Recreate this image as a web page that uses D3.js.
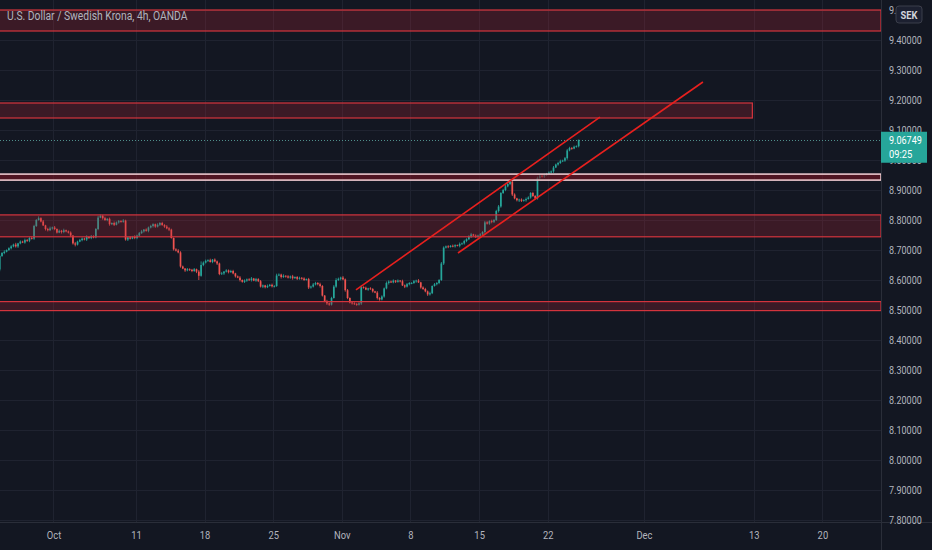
<!DOCTYPE html>
<html>
<head>
<meta charset="utf-8">
<script src="https://cdn.jsdelivr.net/npm/d3@7"></script>
<style>
  body { margin: 0; background: #131722; overflow: hidden; }
  text { font-family: Roboto, "Noto Sans", sans-serif; }
</style>
</head>
<body>
<div id="chart"></div>
<script>
// USD/SEK 4h candles, OANDA, from Sep 27 2021 (6 bars per trading day)
const firstDay = "2021-09-27";
const firstOpen = 8.635;
const closes = [
  8.680, 8.690, 8.694, 8.700, 8.706, 8.712,
  8.718, 8.712, 8.722, 8.728, 8.725, 8.733,
  8.731, 8.740, 8.738, 8.780, 8.800, 8.806,
  8.795, 8.782, 8.770, 8.766, 8.772, 8.775,
  8.770, 8.758, 8.764, 8.760, 8.766, 8.762,
  8.758, 8.748, 8.722, 8.718, 8.728, 8.733,
  8.738, 8.735, 8.744, 8.740, 8.746, 8.742,
  8.770, 8.808, 8.814, 8.806, 8.800, 8.804,
  8.786, 8.790, 8.784, 8.792, 8.796, 8.794,
  8.798, 8.735, 8.742, 8.738, 8.744, 8.740,
  8.748, 8.756, 8.762, 8.768, 8.764, 8.775,
  8.780, 8.786, 8.778, 8.784, 8.790, 8.783,
  8.778, 8.772, 8.768, 8.740, 8.702, 8.698,
  8.692, 8.645, 8.638, 8.632, 8.636, 8.634,
  8.630, 8.636, 8.628, 8.614, 8.650, 8.658,
  8.664, 8.666, 8.660, 8.668, 8.662, 8.655,
  8.620, 8.622, 8.628, 8.632, 8.626, 8.630,
  8.622, 8.612, 8.608, 8.600, 8.594, 8.598,
  8.602, 8.600, 8.605, 8.598, 8.603, 8.596,
  8.578, 8.582, 8.576, 8.580, 8.584, 8.579,
  8.580, 8.615, 8.618, 8.610, 8.614, 8.612,
  8.608, 8.612, 8.606, 8.610, 8.604, 8.607,
  8.605, 8.600, 8.603, 8.575, 8.578, 8.585,
  8.590, 8.586, 8.580, 8.548, 8.530, 8.522,
  8.518, 8.540, 8.578, 8.600, 8.604, 8.608,
  8.602, 8.566, 8.540, 8.525, 8.522, 8.520,
  8.518, 8.522, 8.576, 8.574, 8.568, 8.572,
  8.570, 8.562, 8.558, 8.540, 8.535, 8.545,
  8.572, 8.590, 8.595, 8.592, 8.598, 8.594,
  8.598, 8.596, 8.582, 8.578, 8.586, 8.590,
  8.590, 8.596, 8.598, 8.592, 8.575, 8.570,
  8.562, 8.552, 8.556, 8.580, 8.586, 8.590,
  8.600, 8.655, 8.708, 8.712, 8.710, 8.714,
  8.712, 8.716, 8.714, 8.720, 8.722, 8.730,
  8.736, 8.745, 8.752, 8.748, 8.744, 8.748,
  8.752, 8.760, 8.792, 8.788, 8.796, 8.794,
  8.800, 8.830, 8.845, 8.890, 8.900, 8.912,
  8.920, 8.928, 8.885, 8.872, 8.866, 8.868,
  8.864, 8.866, 8.870, 8.875, 8.890, 8.880,
  8.872, 8.940, 8.948, 8.944, 8.950, 8.954,
  8.958, 8.962, 8.975, 8.985, 8.990, 8.996,
  8.998, 9.006, 9.032, 9.040, 9.038, 9.044,
  9.046, 9.06749
];
// wick lengths above / below the body, in thousandths
const upWick = [
  4,3,5,2,3,4, 3,6,2,4,3,5, 4,3,5,4,3,6, 3,5,2,4,6,3, 5,2,4,3,5,2,
  3,4,2,5,3,4, 4,3,5,2,4,3, 3,6,4,3,5,2, 4,2,5,3,4,3, 5,3,2,4,3,5,
  3,4,5,2,4,3, 4,3,2,5,3,4, 3,5,4,3,2,4, 5,4,3,2,4,3, 3,4,2,5,12,4,
  4,3,5,2,4,3, 3,5,2,4,3,4, 4,2,3,5,2,4, 3,4,5,2,4,3, 4,3,2,5,3,4,
  3,6,4,3,5,2, 4,3,5,2,3,4, 3,4,2,4,3,5, 4,3,5,3,2,4, 3,4,5,6,4,3,
  5,3,4,2,3,4, 3,4,6,3,4,2, 4,3,2,5,3,4, 3,5,4,3,4,2, 4,2,5,3,4,3,
  3,4,3,5,2,4, 4,3,5,2,4,3, 3,5,4,3,4,2, 4,3,2,5,3,4, 3,4,5,2,4,3,
  4,3,5,4,3,5, 3,4,5,3,4,6, 8,5,3,4,2,3, 4,3,5,4,3,4, 3,5,4,3,4,3,
  4,3,5,3,4,5, 3,4,5,4,3,4, 3,2
];
const downWick = [
  6,3,4,2,3,4, 3,4,5,3,2,4, 4,5,3,4,3,2, 3,2,5,4,3,4, 4,3,2,5,4,3,
  3,5,4,6,3,2, 4,3,5,3,4,3, 3,4,2,5,3,4, 5,3,4,2,4,3, 3,4,5,3,2,4,
  4,3,2,4,3,5, 3,5,4,3,4,2, 4,3,5,2,4,3, 3,4,2,5,3,4, 4,3,5,14,3,4,
  3,4,2,4,3,5, 4,3,5,3,4,2, 3,4,2,5,3,4, 4,3,5,2,4,3, 3,5,4,3,2,4,
  4,3,2,5,3,4, 3,4,5,2,4,3, 4,3,2,5,4,3, 3,4,5,3,4,5, 4,3,2,4,3,5,
  3,5,4,3,4,3, 4,3,5,3,2,4, 3,4,2,5,4,3, 4,3,5,2,3,4, 3,4,2,5,3,4,
  4,3,5,2,4,3, 3,5,4,3,2,4, 4,3,5,3,4,2, 3,4,2,5,3,4, 4,3,5,2,4,3,
  3,4,5,3,4,5, 4,3,5,4,3,4, 3,4,5,3,4,6, 4,3,5,2,4,3, 3,4,5,3,4,3,
  4,3,5,2,4,3, 3,4,5,3,4,2, 3,4
];

const priceTicks = [7.8, 7.9, 8.0, 8.1, 8.2, 8.3, 8.4, 8.5, 8.6, 8.7, 8.8, 8.9, 9.0, 9.1, 9.2, 9.3, 9.4, 9.5];
const timeTicks = ["2021-10-01", "2021-10-11", "2021-10-18", "2021-10-25", "2021-11-01", "2021-11-08",
                   "2021-11-15", "2021-11-22", "2021-12-01", "2021-12-13", "2021-12-20"];

// drawn zones: top / bottom price, right end (trading day index, null = to the axis)
const zoneTop    = [9.500, 9.190, 8.953, 8.817, 8.528];
const zoneBottom = [9.430, 9.140, 8.933, 8.744, 8.498];
const zoneEnd    = [null, 54.9, null, null, null];
const zoneKind   = ["red", "red", "white", "red", "red"];

// channel lines: [startDay, startPrice, endDay, endPrice]
const channel = [
  [26.03, 8.567, 43.8, 9.143],
  [33.46, 8.690, 51.3, 9.260]
];

const lastPrice = 9.06749;
const countdown = "09:25";
const title = "U.S. Dollar / Swedish Krona, 4h, OANDA";

const width = 932, height = 550;
const plotRight = 881, plotBottom = 522;

const svg = d3.select("#chart").append("svg")
  .attr("width", width)
  .attr("height", height)
  .style("background", "#131722");

const x = d3.scaleLinear().domain([0.1035, 64.27]).range([0, plotRight]);
const y = d3.scaleLinear().domain([7.8, 9.5]).range([520, 10]);

// trading day index (weekdays counted from the first day)
const start = new Date(firstDay + "T00:00:00Z");
function dayIndex(s) {
  const d = new Date(s + "T00:00:00Z");
  return d3.utcDay.range(start, d).filter(t => t.getUTCDay() % 6 !== 0).length;
}

// squeeze text a bit, the screenshot fonts are narrow
function squeeze(sel, k) {
  sel.each(function() {
    const w = this.getComputedTextLength();
    d3.select(this).attr("textLength", w * k).attr("lengthAdjust", "spacingAndGlyphs");
  });
}

const grid = svg.append("g");
grid.selectAll(".hg")
  .data(priceTicks)
  .enter().append("line")
    .attr("x1", 0).attr("x2", plotRight)
    .attr("y1", d => Math.round(y(d)) + 0.5)
    .attr("y2", d => Math.round(y(d)) + 0.5)
    .attr("stroke", "#1f2330");
grid.selectAll(".vg")
  .data(timeTicks)
  .enter().append("line")
    .attr("x1", d => Math.round(x(dayIndex(d))) + 0.5)
    .attr("x2", d => Math.round(x(dayIndex(d))) + 0.5)
    .attr("y1", 0).attr("y2", plotBottom)
    .attr("stroke", "#1f2330");

// candles
const candles = closes.map((c, i) => {
  const o = i === 0 ? firstOpen : closes[i - 1];
  return {
    t: Math.floor(i / 6) + (i % 6 + 0.5) / 6,
    o: o, c: c,
    h: Math.max(o, c) + upWick[i] / 1000,
    l: Math.min(o, c) - downWick[i] / 1000
  };
});
candles[candles.length - 1].h = lastPrice;

const up = "#26a69a", down = "#ef5350";
const cg = svg.append("g");
cg.selectAll(".wick")
  .data(candles)
  .enter().append("line")
    .attr("x1", d => x(d.t)).attr("x2", d => x(d.t))
    .attr("y1", d => y(d.h)).attr("y2", d => y(d.l))
    .attr("stroke", d => d.c >= d.o ? up : down)
    .attr("stroke-width", 0.8);
cg.selectAll(".body")
  .data(candles)
  .enter().append("rect")
    .attr("x", d => x(d.t) - 0.85)
    .attr("width", 1.7)
    .attr("y", d => y(Math.max(d.o, d.c)))
    .attr("height", d => Math.max(0.8, Math.abs(y(d.o) - y(d.c))))
    .attr("fill", d => d.c >= d.o ? up : down);

// zones
const zones = zoneTop.map((t, i) => ({ top: t, bottom: zoneBottom[i], end: zoneEnd[i], kind: zoneKind[i] }));
svg.append("g").selectAll("rect")
  .data(zones)
  .enter().append("rect")
    .attr("x", -2)
    .attr("width", d => (d.end === null ? plotRight : x(d.end)) + 2)
    .attr("y", d => y(d.top))
    .attr("height", d => y(d.bottom) - y(d.top))
    .attr("fill", d => d.kind === "white" ? "rgba(120,20,35,0.6)" : "rgba(178,34,52,0.25)")
    .attr("stroke", d => d.kind === "white" ? "#e9c6cb" : "#d4343d")
    .attr("stroke-width", d => d.kind === "white" ? 1.6 : 1.2);

// channel
svg.append("g").selectAll("line")
  .data(channel)
  .enter().append("line")
    .attr("x1", d => x(d[0])).attr("y1", d => y(d[1]))
    .attr("x2", d => x(d[2])).attr("y2", d => y(d[3]))
    .attr("stroke", "#e8201e")
    .attr("stroke-width", 1.6);

// last price line
svg.append("line")
  .attr("x1", 0).attr("x2", plotRight)
  .attr("y1", Math.round(y(lastPrice)) + 0.5).attr("y2", Math.round(y(lastPrice)) + 0.5)
  .attr("stroke", "#4f8f8b")
  .attr("stroke-dasharray", "1,2");

// axis panes
svg.append("rect").attr("x", plotRight).attr("y", 0).attr("width", width - plotRight).attr("height", height).attr("fill", "#131722");
svg.append("rect").attr("x", 0).attr("y", plotBottom).attr("width", width).attr("height", height - plotBottom).attr("fill", "#131722");
svg.append("line").attr("x1", plotRight + 0.5).attr("x2", plotRight + 0.5).attr("y1", 0).attr("y2", height).attr("stroke", "#2a2e39");
svg.append("line").attr("x1", 0).attr("x2", width).attr("y1", plotBottom + 0.5).attr("y2", plotBottom + 0.5).attr("stroke", "#2a2e39");

const yAxis = d3.axisRight(y).tickValues(priceTicks).tickFormat(d3.format(".5f")).tickSize(0).tickPadding(8);
const ya = svg.append("g").attr("transform", `translate(${plotRight},0)`).call(yAxis);
ya.select(".domain").remove();
ya.selectAll("text").attr("fill", "#b2b5be").style("font-size", "11px").call(squeeze, 0.82);

const xAxis = d3.axisBottom(x)
  .tickValues(timeTicks.map(dayIndex))
  .tickFormat((d, i) => {
    const dt = new Date(timeTicks[i] + "T00:00:00Z");
    return dt.getUTCDate() === 1 ? d3.utcFormat("%b")(dt) : d3.utcFormat("%-d")(dt);
  })
  .tickSize(0).tickPadding(9);
const xa = svg.append("g").attr("transform", `translate(0,${plotBottom})`).call(xAxis);
xa.select(".domain").remove();
xa.selectAll("text").attr("fill", "#b2b5be").style("font-size", "11px").call(squeeze, 0.85);

// last price badge
const ly = y(lastPrice);
svg.append("rect")
  .attr("x", plotRight).attr("y", ly - 8)
  .attr("width", 46).attr("height", 31)
  .attr("fill", "#26a69a");
svg.append("text").attr("x", plotRight + 8).attr("y", ly + 4)
  .attr("fill", "#ffffff").style("font-size", "11px").text(d3.format(".5f")(lastPrice)).call(squeeze, 0.82);
svg.append("text").attr("x", plotRight + 8).attr("y", ly + 18)
  .attr("fill", "#ffffff").style("font-size", "11px").text(countdown).call(squeeze, 0.85);

// currency badge
svg.append("rect")
  .attr("x", 896).attr("y", 6).attr("width", 26).attr("height", 17).attr("rx", 3)
  .attr("fill", "#1c2030").attr("stroke", "#3a3e4a");
svg.append("text").attr("x", 909).attr("y", 18.5).attr("text-anchor", "middle")
  .attr("fill", "#d1d4dc").style("font-size", "11px").style("font-weight", "bold")
  .text("SEK").call(squeeze, 0.85);

// title
svg.append("text").attr("x", 7).attr("y", 20)
  .attr("fill", "#b2b5be").style("font-size", "12px")
  .text(title).call(squeeze, 0.86);
</script>
</body>
</html>
